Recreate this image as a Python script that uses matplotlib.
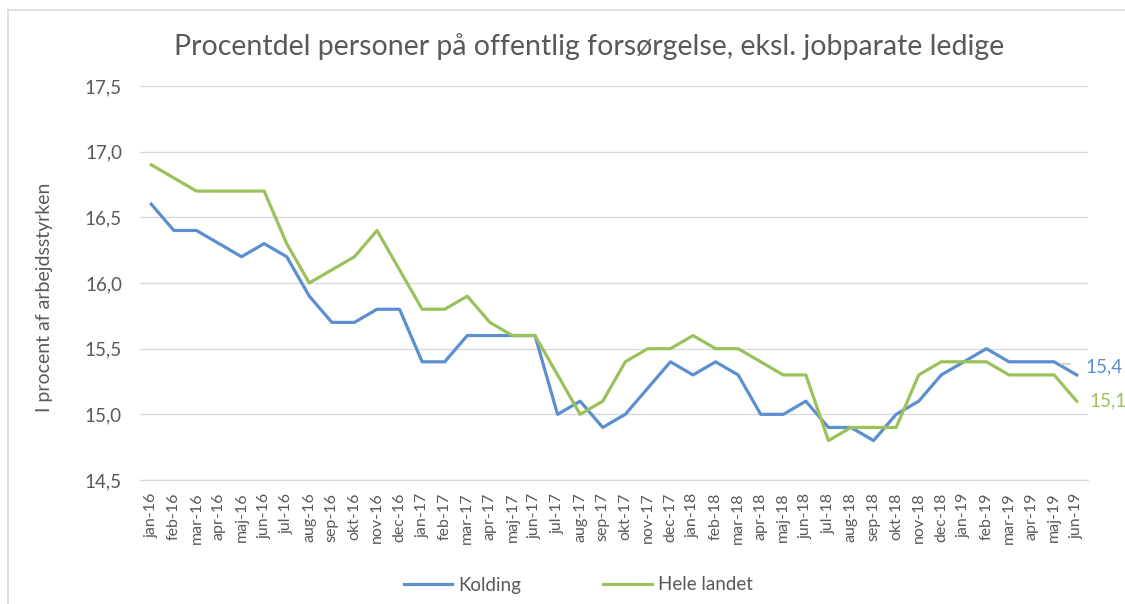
import matplotlib
matplotlib.use("Agg")
import matplotlib.pyplot as plt
from matplotlib.ticker import FuncFormatter

# data
maaneder = ["jan", "feb", "mar", "apr", "maj", "jun", "jul", "aug", "sep", "okt", "nov", "dec"]
aar = ["16", "17", "18", "19"]
labels = [m + "-" + a for a in aar for m in maaneder][:42]

kolding = [16.6, 16.4, 16.4, 16.3, 16.2, 16.3, 16.2, 15.9, 15.7, 15.7, 15.8, 15.8,
           15.4, 15.4, 15.6, 15.6, 15.6, 15.6, 15.0, 15.1, 14.9, 15.0, 15.2, 15.4,
           15.3, 15.4, 15.3, 15.0, 15.0, 15.1, 14.9, 14.9, 14.8, 15.0, 15.1, 15.3,
           15.4, 15.5, 15.4, 15.4, 15.4, 15.3]
hele_landet = [16.9, 16.8, 16.7, 16.7, 16.7, 16.7, 16.3, 16.0, 16.1, 16.2, 16.4, 16.1,
               15.8, 15.8, 15.9, 15.7, 15.6, 15.6, 15.3, 15.0, 15.1, 15.4, 15.5, 15.5,
               15.6, 15.5, 15.5, 15.4, 15.3, 15.3, 14.8, 14.9, 14.9, 14.9, 15.3, 15.4,
               15.4, 15.4, 15.3, 15.3, 15.3, 15.1]
slut_labels = ["15,4", "15,1"]

BLAA = "#5B8FD0"
GROEN = "#9BC25A"
GRAA = "#595959"

plt.rcParams["font.family"] = ["Lato", "DejaVu Sans"]

W, H = 1125, 604
fig = plt.figure(figsize=(W / 100, H / 100), dpi=100)
ax = fig.add_axes([140 / W, 1 - 480 / H, (1088 - 140) / W, (480 - 86) / H])

x = list(range(len(labels)))
ax.plot(x, kolding, color=BLAA, lw=2.3, label="Kolding")
ax.plot(x, hele_landet, color=GROEN, lw=2.3, label="Hele landet")

ax.set_xlim(-0.5, len(labels) - 0.5)
ax.set_ylim(14.5, 17.5)
ax.set_yticks([14.5, 15.0, 15.5, 16.0, 16.5, 17.0, 17.5])
ax.yaxis.set_major_formatter(FuncFormatter(lambda v, p: f"{v:.1f}".replace(".", ",")))
ax.set_xticks(x)
ax.set_xticklabels(labels, rotation=90, fontsize=11.5, color=GRAA)
ax.tick_params(axis="y", labelsize=13.5, colors=GRAA, length=0, pad=13)
ax.tick_params(axis="x", length=0, pad=9)
ax.grid(axis="y", color="#D9D9D9", lw=1)
ax.set_axisbelow(True)
for s in ["top", "right", "left"]:
    ax.spines[s].set_visible(False)
ax.spines["bottom"].set_color("#D9D9D9")

fig.text(45 / W, 1 - 297 / H, "I procent af arbejdsstyrken", rotation=90,
         ha="center", va="center", fontsize=14, color=GRAA)

# labels at the end of the lines
ax.plot([x[-1] - 0.7, x[-1] - 0.3], [kolding[-1] + 0.085, kolding[-1] + 0.085], color="#D0D0D0", lw=1.2)
ax.annotate(slut_labels[0], (x[-1], kolding[-1]), xytext=(6.5, 6), textcoords="offset points",
            color=BLAA, fontsize=13.5, va="center", annotation_clip=False)
ax.annotate(slut_labels[1], (x[-1], hele_landet[-1]), xytext=(9.5, 0), textcoords="offset points",
            color=GROEN, fontsize=13.5, va="center", annotation_clip=False)

fig.text(589 / W, 1 - 47 / H, "Procentdel personer på offentlig forsørgelse, eksl. jobparate ledige",
         ha="center", va="center", fontsize=20.5, color=GRAA)

fig.legend(loc="center", bbox_to_anchor=(578 / W, 1 - 585 / H), ncol=2, frameon=False,
           fontsize=13.5, labelcolor=GRAA, handlelength=2.6, handletextpad=0.3, columnspacing=4.4)

# frame: only top and left edges are visible in the reference
fig.add_artist(plt.Line2D([8 / W, 1], [1 - 10 / H, 1 - 10 / H], transform=fig.transFigure,
                          color="#D9D9D9", lw=1.2))
fig.add_artist(plt.Line2D([8 / W, 8 / W], [0, 1 - 10 / H], transform=fig.transFigure,
                          color="#D9D9D9", lw=1.2))

fig.savefig("out.png", dpi=100)
